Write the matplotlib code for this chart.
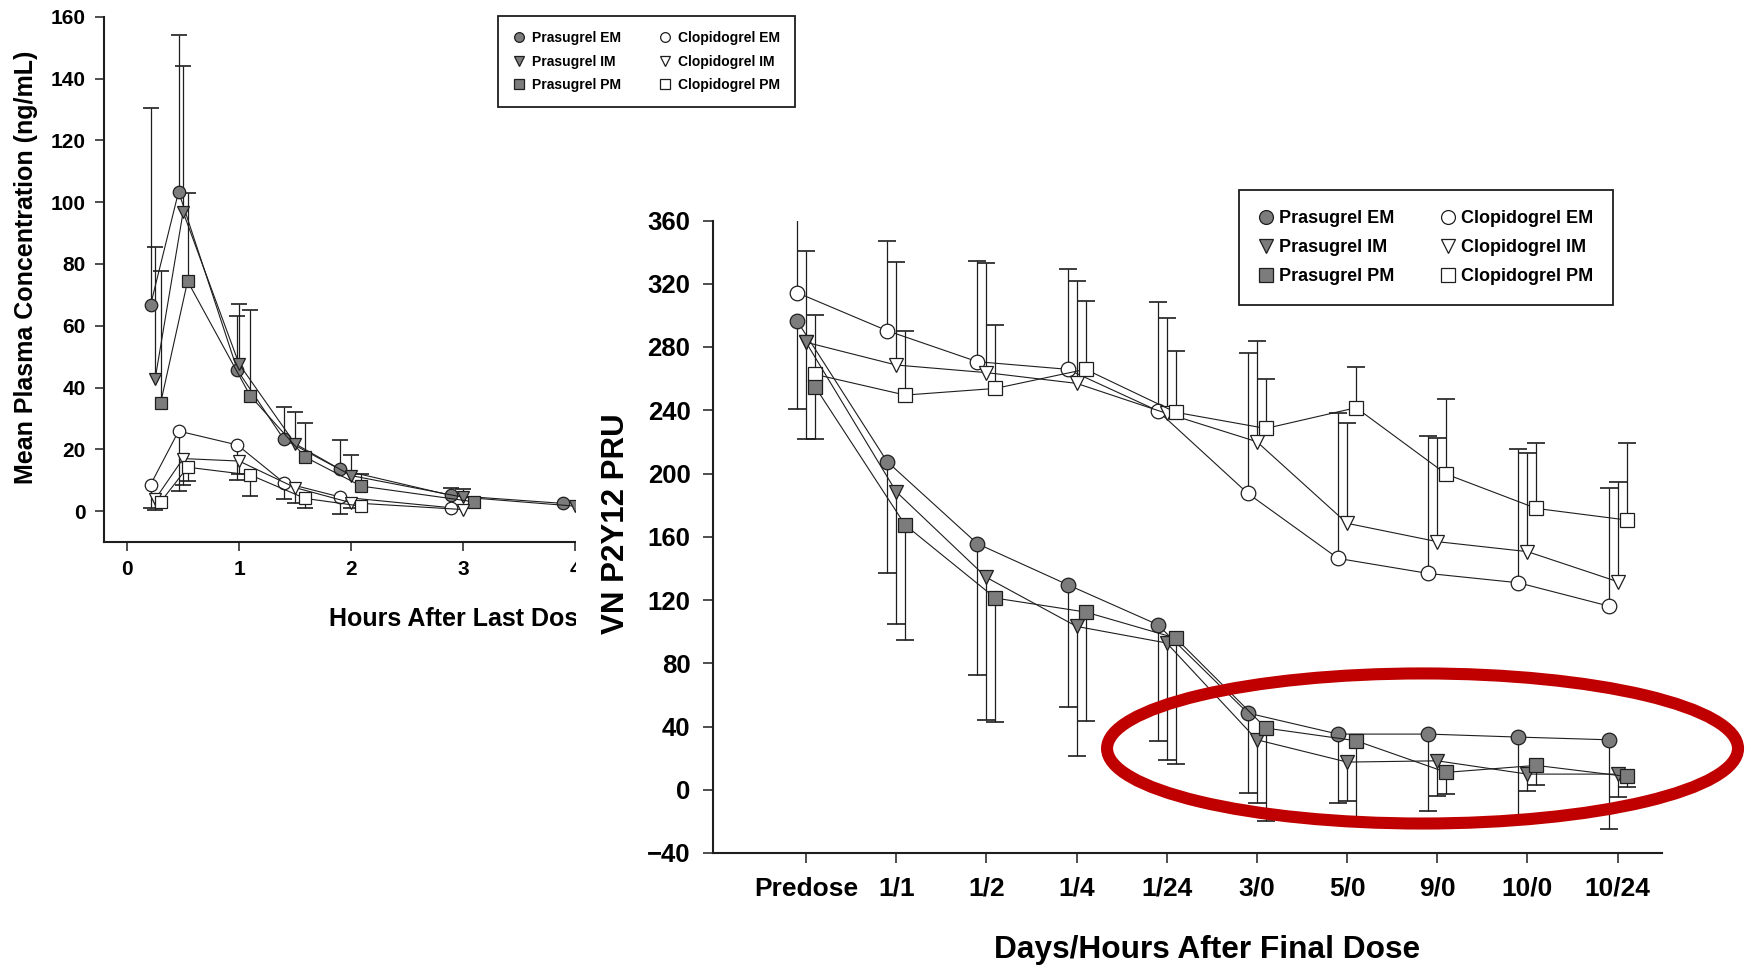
import numpy as np
import matplotlib.pyplot as plt
from matplotlib.lines import Line2D
from matplotlib.patches import Rectangle, Ellipse

plt.rcParams['font.family'] = ['Liberation Sans', 'DejaVu Sans']
plt.rcParams['font.weight'] = 'bold'

GRAY = '#7c7c7c'
INK = '#1e1e1e'

# ---- left panel: plasma concentration (ng/mL) vs hours after last dose ----
pem_t = [0.21, 0.46, 0.985, 1.40, 1.90, 2.89, 3.89]
pem_c = [66.8, 103.4, 45.6, 23.2, 13.5, 5.1, 2.5]
pem_top = [130.3, 154.1, 63.2, 33.7, 22.9, 7.6, np.nan]

pim_t = [0.25, 0.50, 1.0, 1.5, 2.0, 3.0, 4.0]
pim_c = [42.7, 96.8, 47.6, 21.8, 11.5, 4.5, 1.6]
pim_top = [85.4, 144.1, 67.0, 32.1, 18.3, 7.2, np.nan]

ppm_t = [0.30, 0.54, 1.10, 1.59, 2.09, 3.10]
ppm_c = [35.1, 74.4, 37.3, 17.5, 8.1, 3.0]
ppm_top = [77.8, 102.9, 65.1, 28.4, 12.1, np.nan]

cem_t = [0.21, 0.46, 0.985, 1.40, 1.90, 2.89]
cem_c = [8.6, 25.9, 21.4, 9.2, 4.6, 1.1]
cem_bot = [1.1, 6.5, 10.2, 3.8, -0.8, np.nan]

cim_t = [0.25, 0.50, 1.0, 1.5, 2.0, 3.0]
cim_c = [3.8, 17.0, 16.2, 7.6, 2.7, 0.5]
cim_bot = [0.5, 8.5, 12.0, 2.7, 1.0, np.nan]

cpm_t = [0.30, 0.54, 1.10, 1.59, 2.09]
cpm_c = [3.0, 14.2, 11.7, 4.1, 1.6]
cpm_bot = [np.nan, 9.7, 4.9, 1.1, np.nan]

# ---- right panel: VN P2Y12 PRU by day/hour after final dose ----
visits = ['Predose', '1/1', '1/2', '1/4', '1/24', '3/0', '5/0', '9/0', '10/0', '10/24']

clop_em = [314.4, 290.3, 270.7, 265.9, 239.7, 187.4, 146.3, 136.8, 130.9, 116.2]
clop_em_hi = [360.3, 347.0, 334.4, 329.1, 308.7, 276.4, 238.0, 223.6, 215.7, 190.6]
clop_im = [283.0, 268.6, 263.8, 257.0, 238.0, 220.1, 168.5, 156.9, 150.6, 131.6]
clop_im_hi = [340.9, 334.0, 332.9, 322.0, 298.6, 283.8, 232.1, 222.6, 212.7, 194.8]
clop_pm = [262.7, 249.6, 253.8, 265.9, 238.7, 228.5, 241.6, 199.6, 177.9, 170.6]
clop_pm_hi = [300.2, 290.1, 293.9, 309.3, 277.7, 259.5, 267.5, 246.9, 219.1, 219.5]

pras_em = [296.6, 207.5, 155.6, 129.7, 104.4, 48.5, 35.2, 35.2, 33.3, 31.6]
pras_em_lo = [240.6, 137.0, 72.3, 52.1, 31.0, -2.1, -8.4, -13.7, -18.0, -24.7]
pras_im = [283.0, 188.5, 134.3, 103.3, 92.8, 31.6, 17.5, 18.3, 9.9, 9.9]
pras_im_lo = [221.8, 105.0, 44.3, 21.1, 19.0, -8.4, -7.0, -4.2, -0.6, -4.6]
pras_pm = [254.9, 167.4, 121.2, 112.4, 95.9, 39.0, 31.0, 11.0, 15.4, 8.4]
pras_pm_lo = [221.8, 94.9, 42.6, 43.6, 16.4, -19.6, -20.0, -2.5, 3.2, 1.5]

labels = ['Prasugrel EM', 'Prasugrel IM', 'Prasugrel PM',
          'Clopidogrel EM', 'Clopidogrel IM', 'Clopidogrel PM']
markers = ['o', 'v', 's', 'o', 'v', 's']
faces = [GRAY, GRAY, GRAY, 'white', 'white', 'white']

W, H = 1746, 967


def fx(px):
    return px / W


def fy(py):
    return 1 - py / H


def series(ax, x, y, ends, marker, face, ms, cap):
    # one-sided error bar, cap, then the connected markers on top
    ax.vlines(x, y, ends, color=INK, lw=0.9, zorder=2)
    ax.plot(x, ends, ls='none', marker='_', ms=cap, mew=1.2, color=INK, zorder=2)
    ax.plot(x, y, color=INK, lw=0.8, marker=marker, ms=ms, mfc=face,
            mec=INK, mew=0.9, zorder=3)


def style(ax, size, tlen, tpad):
    for s in ['top', 'right']:
        ax.spines[s].set_visible(False)
    for s in ['left', 'bottom']:
        ax.spines[s].set_linewidth(1.5)
        ax.spines[s].set_color(INK)
    ax.tick_params(direction='out', length=tlen, width=1.1, color=INK,
                   labelsize=size, pad=tpad)
    for t in ax.get_xticklabels() + ax.get_yticklabels():
        t.set_fontweight('bold')


def legend(ax, ms, fs, anchor, **kw):
    handles = [Line2D([], [], ls='none', marker=m, ms=ms, mfc=f, mec=INK, mew=0.9)
               for m, f in zip(markers, faces)]
    leg = ax.legend(handles, labels, ncol=2, loc='upper left',
                    bbox_to_anchor=anchor, bbox_transform=fig.transFigure,
                    prop={'size': fs, 'weight': 'bold'}, frameon=True,
                    fancybox=False, framealpha=1, edgecolor=INK,
                    borderaxespad=0, handlelength=0.8, **kw)
    leg.get_frame().set_linewidth(1.3)
    return leg


fig = plt.figure(figsize=(17.46, 9.67), dpi=100)

# left chart
axL = fig.add_axes([fx(103.6), fy(542), fx(619.8) - fx(103.6), fy(16.7) - fy(542)])
axL.set_zorder(0)
series(axL, pem_t, pem_c, pem_top, 'o', GRAY, 9, 11)
series(axL, pim_t, pim_c, pim_top, 'v', GRAY, 9, 11)
series(axL, ppm_t, ppm_c, ppm_top, 's', GRAY, 8.5, 11)
series(axL, cem_t, cem_c, cem_bot, 'o', 'white', 9, 11)
series(axL, cim_t, cim_c, cim_bot, 'v', 'white', 9, 11)
series(axL, cpm_t, cpm_c, cpm_bot, 's', 'white', 8.5, 11)
axL.set_xlim(-0.21, 4.4)
axL.set_ylim(-10, 160)
axL.set_xticks([0, 1, 2, 3, 4])
axL.set_yticks(np.arange(0, 161, 20))
style(axL, 15, 6.5, 6.5)
axL.tick_params(axis='x', pad=6.5)
legend(axL, 7, 10, (fx(498), fy(16)), borderpad=1.1, labelspacing=0.67,
       handletextpad=0.55, columnspacing=2.75)

fig.text(fx(26), fy(267), 'Mean Plasma Concentration (ng/mL)', rotation=90,
         ha='center', va='center', fontsize=18, fontweight='bold')
fig.text(fx(329), fy(626), 'Hours After Last Dose', ha='left', va='baseline',
         fontsize=18, fontweight='bold', zorder=0.5)

# the right chart sits over the cut-off edge of the left one
fig.add_artist(Rectangle((fx(576), 0), 1 - fx(576), fy(120), transform=fig.transFigure,
                         facecolor='white', edgecolor='none', zorder=1))

# right chart
axR = fig.add_axes([fx(712.6), fy(853), fx(1661.5) - fx(712.6), fy(220.5) - fy(853)])
axR.set_zorder(2)
idx = np.arange(len(visits))
series(axR, idx - 0.1, clop_em, clop_em_hi, 'o', 'white', 10.5, 13)
series(axR, idx, clop_im, clop_im_hi, 'v', 'white', 10.5, 13)
series(axR, idx + 0.1, clop_pm, clop_pm_hi, 's', 'white', 10, 13)
series(axR, idx - 0.1, pras_em, pras_em_lo, 'o', GRAY, 10.5, 13)
series(axR, idx, pras_im, pras_im_lo, 'v', GRAY, 10.5, 13)
series(axR, idx + 0.1, pras_pm, pras_pm_lo, 's', GRAY, 10, 13)
axR.set_xlim(-1.036, 9.487)
axR.set_ylim(-40, 360)
axR.set_xticks(idx)
axR.set_xticklabels(visits)
axR.set_yticks(np.arange(-40, 361, 40))
style(axR, 18.5, 7, 9)
axR.tick_params(axis='x', labelsize=19, pad=10)
legend(axR, 10, 13, (fx(1239), fy(190)), borderpad=1.1, labelspacing=0.67,
       handletextpad=0.32, columnspacing=2.57)

axR.add_patch(Ellipse((6.837, 26.1), 6.997, 94.9, fill=False, edgecolor='#c00000',
                      lw=8.7, clip_on=False, zorder=6))

fig.text(fx(616), fy(524), 'VN P2Y12 PRU', rotation=90, ha='center', va='center',
         fontsize=22.5, fontweight='bold')
fig.text(fx(1207), fy(958), 'Days/Hours After Final Dose', ha='center', va='baseline',
         fontsize=22.8, fontweight='bold')

fig.savefig('out.png', dpi=100)
